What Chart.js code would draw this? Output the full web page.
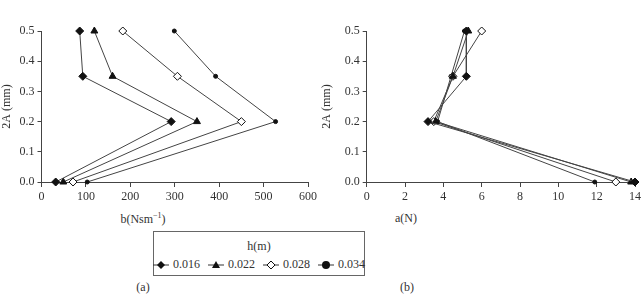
<!DOCTYPE html>
<html>
<head>
<meta charset="utf-8">
<script src="https://cdn.jsdelivr.net/npm/chart.js@4"></script>
<style>
  body { margin: 0; background: #fff; font-family: "Times New Roman", "Liberation Serif", Times, serif; color: #333; }
  #wrap { position: relative; width: 644px; height: 294px; }
  .box { position: absolute; top: 0; height: 210px; }
  .txt { position: absolute; font-size: 12px; transform: translateX(-50%); white-space: nowrap; }
  #legend { position: absolute; left: 153px; top: 231px; width: 210px; height: 43px; border: 1px solid #666; font-size: 12px; }
  #legend .ttl { text-align: center; margin-top: 7px; }
  #legend .row { display: flex; justify-content: center; align-items: center; margin-top: 3px; }
  #legend .item { display: flex; align-items: center; margin: 0 4px; }
  #legend svg { margin-right: 4px; }
</style>
</head>
<body>
<div id="wrap">
  <div class="box" style="left:0;width:320px"><canvas id="chartB"></canvas></div>
  <div class="box" style="left:320px;width:324px"><canvas id="chartA"></canvas></div>
  <div class="txt" style="left:143px;top:211px">b(Nsm<sup style="font-size:8px">−1</sup>)</div>
  <div class="txt" style="left:406px;top:211px">a(N)</div>
  <div id="legend"><div class="ttl">h(m)</div><div class="row" id="legendRow"></div></div>
  <div class="txt" style="left:143px;top:280px">(a)</div>
  <div class="txt" style="left:407px;top:280px">(b)</div>
</div>
<script>
// 2A levels (mm)
const yLevels = [0.5, 0.35, 0.2, 0.0];
const seriesLabels = ['0.016', '0.022', '0.028', '0.034'];

// b (Nsm-1) for each h
const b016 = [86, 93, 292, 32];
const b022 = [119, 160, 350, 49];
const b028 = [183, 306, 450, 71];
const b034 = [299, 392, 527, 103];

// a (N) for each h
const a016 = [5.2, 5.2, 3.2, 14.0];
const a022 = [5.3, 4.5, 3.6, 13.8];
const a028 = [6.0, 4.5, 3.5, 13.0];
const a034 = [5.1, 4.4, 3.7, 11.9];

const pointStyles = ['rectRot', 'triangle', 'rectRot', 'circle'];
const pointRadii = [4, 4, 4, 2];
const pointFills = ['#111', '#111', '#fff', '#111'];

const font = { family: '"Times New Roman", "Liberation Serif", serif', size: 12 };

function makeSets(xs) {
    return xs.map((vals, i) => ({
        label: seriesLabels[i],
        data: vals.map((v, j) => ({ x: v, y: yLevels[j] })),
        showLine: true,
        borderColor: '#444',
        borderWidth: 1,
        pointStyle: pointStyles[i],
        pointRadius: pointRadii[i],
        pointBackgroundColor: pointFills[i],
        pointBorderColor: '#111',
        pointBorderWidth: 1,
        clip: false
    }));
}

function makeChart(id, xs, xMax, xStep, yWidth, padRight) {
    new Chart(document.getElementById(id).getContext('2d'), {
        type: 'scatter',
        data: { datasets: makeSets(xs) },
        options: {
            responsive: true,
            maintainAspectRatio: false,
            animation: false,
            layout: { padding: { top: 31, right: padRight, bottom: 0, left: 0 } },
            plugins: { legend: { display: false }, tooltip: { enabled: false } },
            scales: {
                x: {
                    min: 0, max: xMax,
                    ticks: { stepSize: xStep, color: '#333', font: font, padding: 3, maxRotation: 0 },
                    grid: { drawOnChartArea: false, drawTicks: true, tickLength: 5, color: '#444' },
                    border: { color: '#444' },
                    afterFit: s => { s.height = 28; }
                },
                y: {
                    min: 0, max: 0.5,
                    ticks: { stepSize: 0.1, color: '#333', font: font, padding: 3,
                             callback: v => v.toFixed(1) },
                    grid: { drawOnChartArea: false, drawTicks: true, tickLength: 4, color: '#444' },
                    border: { color: '#444' },
                    title: { display: true, text: '2A (mm)', color: '#333', font: font, padding: { top: 0, bottom: 0 } },
                    afterFit: s => { s.width = yWidth; }
                }
            }
        }
    });
}

makeChart('chartB', [b016, b022, b028, b034], 600, 100, 41.5, 10);
makeChart('chartA', [a016, a022, a028, a034], 14, 2, 46.7, 9);

// legend markers
const icons = [
    '<polygon points="8,1 12,5 8,9 4,5" fill="#111"/>',
    '<polygon points="8,1 12,8 4,8" fill="#111"/>',
    '<polygon points="8,1 12,5 8,9 4,5" fill="#fff" stroke="#111"/>',
    '<circle cx="8" cy="5" r="4" fill="#111"/>'
];
const row = document.getElementById('legendRow');
seriesLabels.forEach((lab, i) => {
    const d = document.createElement('div');
    d.className = 'item';
    d.innerHTML = '<svg width="16" height="10"><line x1="0" y1="5" x2="16" y2="5" stroke="#333"/>' + icons[i] + '</svg>' + lab;
    row.appendChild(d);
});
</script>
</body>
</html>
